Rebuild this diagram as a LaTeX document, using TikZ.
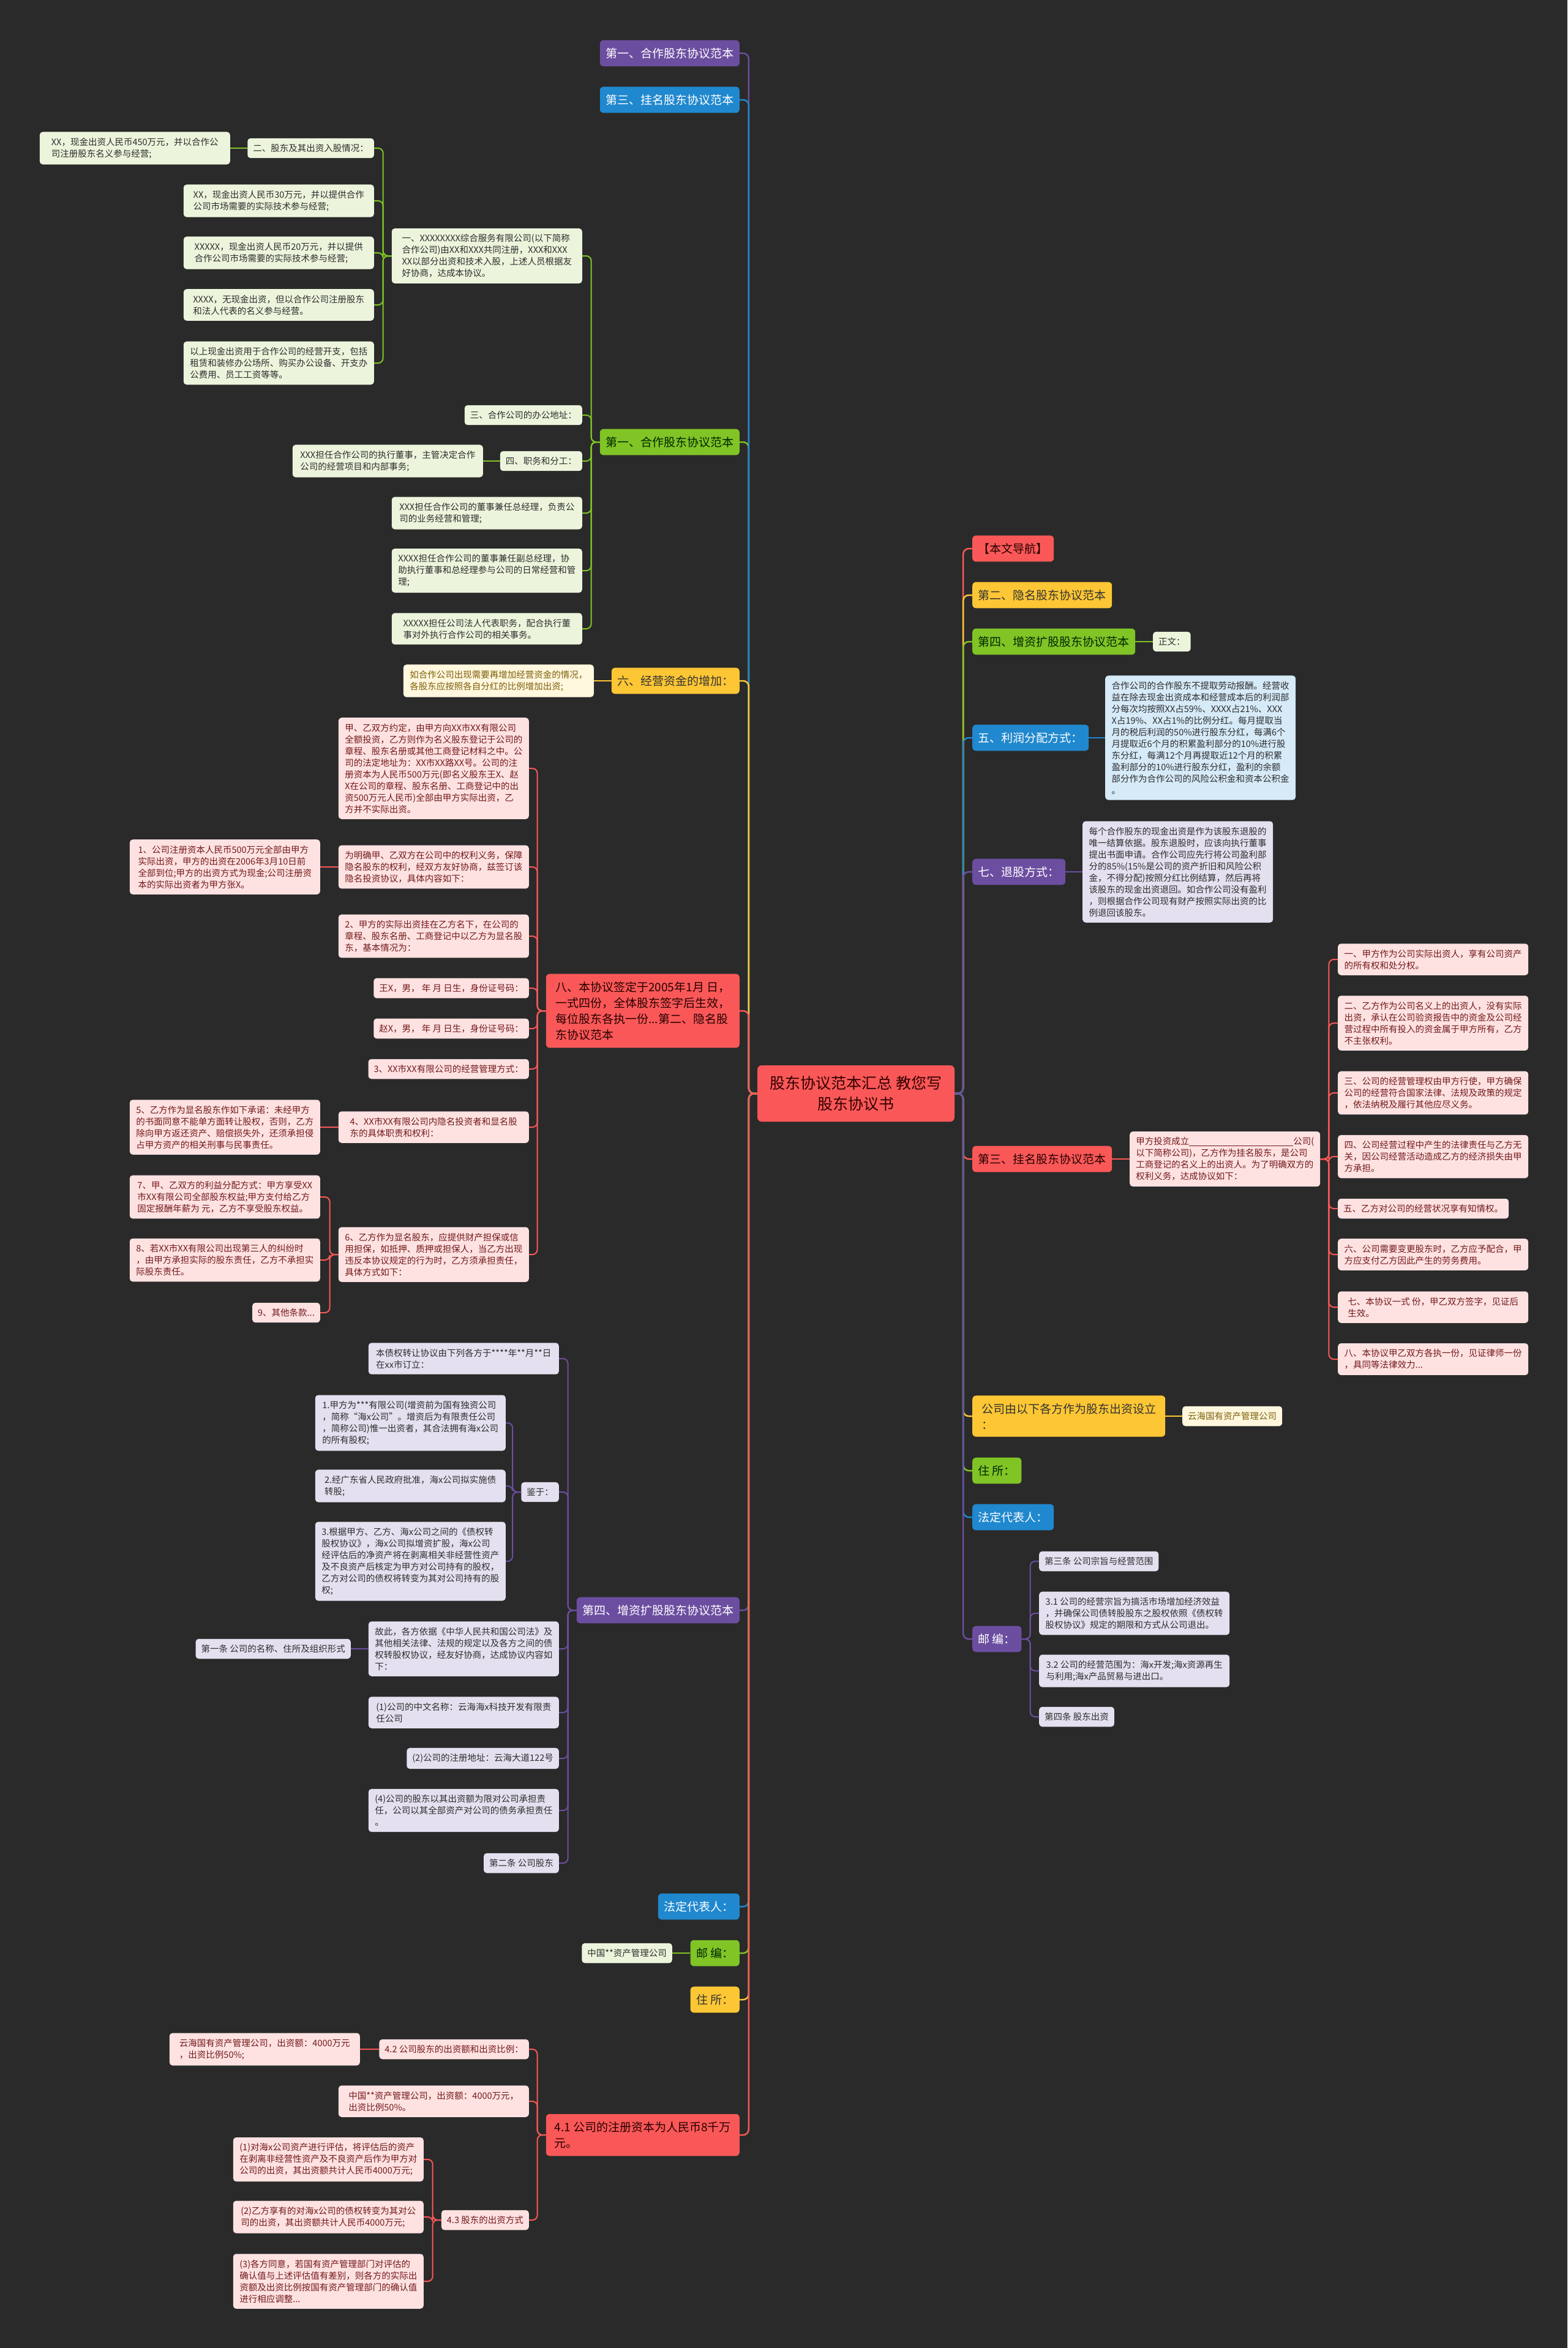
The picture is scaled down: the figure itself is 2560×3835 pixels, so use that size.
\documentclass[tikz,border=0pt]{standalone}
\usepackage{fontspec}
\setmainfont{Noto Sans CJK SC}
\usepackage{tikz}
\usepackage{xcolor}
\definecolor{bgdark}{RGB}{42,42,42}
\definecolor{cpurple}{RGB}{108,78,160}
\definecolor{cblue}{RGB}{32,136,206}
\definecolor{cgreen}{RGB}{128,196,38}
\definecolor{cyellow}{RGB}{252,198,52}
\definecolor{cred}{RGB}{250,88,88}
\definecolor{lgreen}{RGB}{236,245,220}
\definecolor{lred}{RGB}{254,226,226}
\definecolor{lpurple}{RGB}{228,224,240}
\definecolor{lblue}{RGB}{214,234,248}
\definecolor{lyellow}{RGB}{255,247,222}
\definecolor{tred}{RGB}{115,25,25}
\definecolor{tyellow}{RGB}{125,95,10}
\definecolor{tdark}{RGB}{45,45,45}
\newcommand{\leaffont}{\fontsize{14.5}{19}\selectfont}
\newcommand{\brfont}{\fontsize{19}{26}\selectfont}
\newcommand{\topicfont}{\fontsize{25}{34}\selectfont}
\tikzset{
  topic/.style={rectangle,rounded corners=7pt,fill=cred,text=red!20!black,font=\topicfont,align=center,minimum width=322pt,minimum height=92pt,inner sep=0pt},
  brbox/.style={rectangle,rounded corners=6pt,inner xsep=9.5pt,inner ysep=12.5pt,font=\brfont,align=left},
  brpurple/.style={brbox,fill=cpurple,text=white},
  brblue/.style={brbox,fill=cblue,text=white},
  brgreen/.style={brbox,fill=cgreen,text=green!15!black},
  bryellow/.style={brbox,fill=cyellow,text=black!80},
  brred/.style={brbox,fill=cred,text=red!15!black},
  lfbox/.style={rectangle,rounded corners=5pt,inner xsep=9pt,inner ysep=9.5pt,font=\leaffont,align=left},
  lfgreen/.style={lfbox,fill=lgreen,text=tdark},
  lfred/.style={lfbox,fill=lred,text=tred},
  lfpurple/.style={lfbox,fill=lpurple,text=tdark},
  lfblue/.style={lfbox,fill=lblue,text=tdark},
  lfyellow/.style={lfbox,fill=lyellow,text=tyellow},
  wide/.style={minimum width=311pt},
  % connectors: elbow from parent side, straight when child sits level with parent
  link/.style={line width=2.5pt,rounded corners=9pt},
  sublink/.style={line width=2pt,rounded corners=8pt},
}
\newcommand{\linkL}[3]{\draw[#1] (#2.west) -- ++(-14,0) |- (#3.east);}
\newcommand{\linkR}[3]{\draw[#1] (#2.east) -- ++(14,0) |- (#3.west);}
\newcommand{\flatL}[3]{\draw[#1] (#2.west) -- (#3.east);}
\newcommand{\flatR}[3]{\draw[#1] (#2.east) -- (#3.west);}

\begin{document}
\begin{tikzpicture}[x=1pt,y=-1pt]
  \fill[bgdark] (0,0) rectangle (2560,3835);
  \useasboundingbox (0,0) rectangle (2560,3835);

  \node[topic] (T) at (1398,1786) {股东协议范本汇总 教您写\\股东协议书};

  % left branches
  \node[brpurple,anchor=east] (L1) at (1208,87) {第一、合作股东协议范本};
  \node[brblue,anchor=east] (L2) at (1208,163) {第三、挂名股东协议范本};
  \node[brgreen,anchor=east] (L3) at (1208,722) {第一、合作股东协议范本};
  \node[bryellow,anchor=east] (L4) at (1208,1112) {六、经营资金的增加：};
  \node[brred,anchor=east,minimum width=316pt] (L5) at (1208,1651) {八、本协议签定于2005年1月 日，\\一式四份，全体股东签字后生效，\\每位股东各执一份...第二、隐名股\\东协议范本};
  \node[brpurple,anchor=east] (L6) at (1208,2630) {第四、增资扩股股东协议范本};
  \node[brblue,anchor=east] (L7) at (1208,3114) {法定代表人：};
  \node[brgreen,anchor=east] (L8) at (1208,3190) {邮 编：};
  \node[bryellow,anchor=east] (L9) at (1208,3266) {住 所：};
  \node[brred,anchor=east,minimum width=316pt] (L10) at (1208,3487) {4.1 公司的注册资本为人民币8千万\\元。};

  \node[lfgreen,wide,anchor=east] (ga) at (951,418) {一、XXXXXXXX综合服务有限公司(以下简称\\合作公司)由XX和XXX共同注册，XXX和XXX\\XX以部分出资和技术入股，上述人员根据友\\好协商，达成本协议。};
  \node[lfgreen,anchor=east] (g3) at (951,678) {三、合作公司的办公地址：};
  \node[lfgreen,anchor=east] (g4) at (951,753) {四、职务和分工：};
  \node[lfgreen,wide,anchor=east] (g5) at (951,838) {XXX担任合作公司的董事兼任总经理，负责公\\司的业务经营和管理;};
  \node[lfgreen,wide,anchor=east] (g6) at (951,932) {XXXX担任合作公司的董事兼任副总经理，协\\助执行董事和总经理参与公司的日常经营和管\\理;};
  \node[lfgreen,wide,anchor=east] (g7) at (951,1027) {XXXXX担任公司法人代表职务，配合执行董\\事对外执行合作公司的相关事务。};
  \node[lfgreen,wide,anchor=east] (g4a) at (789,753) {XXX担任合作公司的执行董事，主管决定合作\\公司的经营项目和内部事务;};
  \node[lfgreen,anchor=east] (ga1) at (611,242) {二、股东及其出资入股情况：};
  \node[lfgreen,wide,anchor=east] (ga1a) at (376,242) {XX，现金出资人民币450万元，并以合作公\\司注册股东名义参与经营;};
  \node[lfgreen,wide,anchor=east] (ga2) at (611,328) {XX，现金出资人民币30万元，并以提供合作\\公司市场需要的实际技术参与经营;};
  \node[lfgreen,wide,anchor=east] (ga3) at (611,413) {XXXXX，现金出资人民币20万元，并以提供\\合作公司市场需要的实际技术参与经营;};
  \node[lfgreen,wide,anchor=east] (ga4) at (611,498) {XXXX，无现金出资，但以合作公司注册股东\\和法人代表的名义参与经营。};
  \node[lfgreen,wide,anchor=east] (ga5) at (611,593) {以上现金出资用于合作公司的经营开支，包括\\租赁和装修办公场所、购买办公设备、开支办\\公费用、员工工资等等。};

  \node[lfyellow,wide,anchor=east] (y1) at (970,1112) {如合作公司出现需要再增加经营资金的情况，\\各股东应按照各自分红的比例增加出资;};

  \node[lfred,wide,anchor=east] (r1) at (864,1255) {甲、乙双方约定，由甲方向XX市XX有限公司\\全额投资，乙方则作为名义股东登记于公司的\\章程、股东名册或其他工商登记材料之中。公\\司的法定地址为：XX市XX路XX号。公司的注\\册资本为人民币500万元(即名义股东王X、赵\\X在公司的章程、股东名册、工商登记中的出\\资500万元人民币)全部由甲方实际出资，乙\\方并不实际出资。};
  \node[lfred,wide,anchor=east] (r2) at (864,1416) {为明确甲、乙双方在公司中的权利义务，保障\\隐名股东的权利，经双方友好协商，兹签订该\\隐名投资协议，具体内容如下：};
  \node[lfred,wide,anchor=east] (r3) at (864,1529) {2、甲方的实际出资挂在乙方名下，在公司的\\章程、股东名册、工商登记中以乙方为显名股\\东，基本情况为：};
  \node[lfred,anchor=east] (r4) at (864,1614) {王X，男， 年 月 日生，身份证号码：};
  \node[lfred,anchor=east] (r5) at (864,1680) {赵X，男， 年 月 日生，身份证号码：};
  \node[lfred,anchor=east] (r6) at (864,1746) {3、XX市XX有限公司的经营管理方式：};
  \node[lfred,wide,anchor=east] (r7) at (864,1841) {4、XX市XX有限公司内隐名投资者和显名股\\东的具体职责和权利：};
  \node[lfred,wide,anchor=east] (r8) at (864,2049) {6、乙方作为显名股东，应提供财产担保或信\\用担保，如抵押、质押或担保人，当乙方出现\\违反本协议规定的行为时，乙方须承担责任，\\具体方式如下：};
  \node[lfred,wide,anchor=east] (r2a) at (523,1416) {1、公司注册资本人民币500万元全部由甲方\\实际出资，甲方的出资在2006年3月10日前\\全部到位;甲方的出资方式为现金;公司注册资\\本的实际出资者为甲方张X。};
  \node[lfred,wide,anchor=east] (r7a) at (523,1841) {5、乙方作为显名股东作如下承诺：未经甲方\\的书面同意不能单方面转让股权，否则，乙方\\除向甲方返还资产、赔偿损失外，还须承担侵\\占甲方资产的相关刑事与民事责任。};
  \node[lfred,wide,anchor=east] (r8a) at (523,1955) {7、甲、乙双方的利益分配方式：甲方享受XX\\市XX有限公司全部股东权益;甲方支付给乙方\\固定报酬年薪为 元，乙方不享受股东权益。};
  \node[lfred,wide,anchor=east] (r8b) at (523,2058) {8、若XX市XX有限公司出现第三人的纠纷时\\，由甲方承担实际的股东责任，乙方不承担实\\际股东责任。};
  \node[lfred,anchor=east] (r8c) at (523,2144) {9、其他条款...};

  \node[lfpurple,wide,anchor=east] (p1) at (913,2219) {本债权转让协议由下列各方于****年**月**日\\在xx市订立：};
  \node[lfpurple,anchor=east] (p2) at (913,2437) {鉴于：};
  \node[lfpurple,wide,anchor=east] (p3) at (913,2693) {故此，各方依据《中华人民共和国公司法》及\\其他相关法律、法规的规定以及各方之间的债\\权转股权协议，经友好协商，达成协议内容如\\下：};
  \node[lfpurple,wide,anchor=east] (p4) at (913,2797) {(1)公司的中文名称：云海海x科技开发有限责\\任公司};
  \node[lfpurple,anchor=east] (p5) at (913,2872) {(2)公司的注册地址：云海大道122号};
  \node[lfpurple,wide,anchor=east] (p6) at (913,2957) {(4)公司的股东以其出资额为限对公司承担责\\任，公司以其全部资产对公司的债务承担责任\\。};
  \node[lfpurple,anchor=east] (p7) at (913,3043) {第二条 公司股东};
  \node[lfpurple,wide,anchor=east] (p2a) at (826,2324) {1.甲方为***有限公司(增资前为国有独资公司\\，简称“海x公司”。增资后为有限责任公司\\，简称公司)惟一出资者，其合法拥有海x公司\\的所有股权;};
  \node[lfpurple,wide,anchor=east] (p2b) at (826,2427) {2.经广东省人民政府批准，海x公司拟实施债\\转股;};
  \node[lfpurple,wide,anchor=east] (p2c) at (826,2550) {3.根据甲方、乙方、海x公司之间的《债权转\\股权协议》，海x公司拟增资扩股，海x公司\\经评估后的净资产将在剥离相关非经营性资产\\及不良资产后核定为甲方对公司持有的股权，\\乙方对公司的债权将转变为其对公司持有的股\\权;};
  \node[lfpurple,anchor=east] (p3a) at (573,2693) {第一条 公司的名称、住所及组织形式};

  \node[lfgreen,anchor=east] (e1) at (1098,3190) {中国**资产管理公司};

  \node[lfred,anchor=east] (q1) at (864,3347) {4.2 公司股东的出资额和出资比例：};
  \node[lfred,wide,anchor=east] (q2) at (864,3432) {中国**资产管理公司，出资额：4000万元，\\出资比例50\%。};
  \node[lfred,anchor=east] (q3) at (864,3626) {4.3 股东的出资方式};
  \node[lfred,wide,anchor=east] (q1a) at (588,3347) {云海国有资产管理公司，出资额：4000万元\\，出资比例50\%;};
  \node[lfred,wide,anchor=east] (q3a) at (692,3527) {(1)对海x公司资产进行评估，将评估后的资产\\在剥离非经营性资产及不良资产后作为甲方对\\公司的出资，其出资额共计人民币4000万元;};
  \node[lfred,wide,anchor=east] (q3b) at (692,3621) {(2)乙方享有的对海x公司的债权转变为其对公\\司的出资，其出资额共计人民币4000万元;};
  \node[lfred,wide,anchor=east] (q3c) at (692,3726) {(3)各方同意，若国有资产管理部门对评估的\\确认值与上述评估值有差别，则各方的实际出\\资额及出资比例按国有资产管理部门的确认值\\进行相应调整...};

  % right branches
  \node[brred,anchor=west] (R1) at (1588,896) {【本文导航】};
  \node[bryellow,anchor=west] (R2) at (1588,972) {第二、隐名股东协议范本};
  \node[brgreen,anchor=west] (R3) at (1588,1048) {第四、增资扩股股东协议范本};
  \node[brblue,anchor=west] (R4) at (1588,1205) {五、利润分配方式：};
  \node[brpurple,anchor=west] (R5) at (1588,1424) {七、退股方式：};
  \node[brred,anchor=west] (R6) at (1588,1893) {第三、挂名股东协议范本};
  \node[bryellow,anchor=west,minimum width=315pt] (R7) at (1588,2313) {公司由以下各方作为股东出资设立\\：};
  \node[brgreen,anchor=west] (R8) at (1588,2402) {住 所：};
  \node[brblue,anchor=west] (R9) at (1588,2478) {法定代表人：};
  \node[brpurple,anchor=west] (R10) at (1588,2677) {邮 编：};

  \node[lfgreen,anchor=west] (s3) at (1883,1048) {正文：};
  \node[lfblue,wide,anchor=west] (s4) at (1805,1205) {合作公司的合作股东不提取劳动报酬。经营收\\益在除去现金出资成本和经营成本后的利润部\\分每次均按照XX占59\%、XXXX占21\%、XXX\\X占19\%、XX占1\%的比例分红。每月提取当\\月的税后利润的50\%进行股东分红，每满6个\\月提取近6个月的积累盈利部分的10\%进行股\\东分红，每满12个月再提取近12个月的积累\\盈利部分的10\%进行股东分红，盈利的余额\\部分作为合作公司的风险公积金和资本公积金\\。};
  \node[lfpurple,wide,anchor=west] (s5) at (1768,1424) {每个合作股东的现金出资是作为该股东退股的\\唯一结算依据。股东退股时，应该向执行董事\\提出书面申请。合作公司应先行将公司盈利部\\分的85\%(15\%是公司的资产折旧和风险公积\\金，不得分配)按照分红比例结算，然后再将\\该股东的现金出资退回。如合作公司没有盈利\\，则根据合作公司现有财产按照实际出资的比\\例退回该股东。};
  \node[lfred,wide,anchor=west] (s6) at (1845,1893) {甲方投资成立\rule[-2pt]{170pt}{0.6pt}公司(\\以下简称公司)，乙方作为挂名股东，是公司\\工商登记的名义上的出资人。为了明确双方的\\权利义务，达成协议如下：};
  \node[lfred,wide,anchor=west] (s6a) at (2185,1567) {一、甲方作为公司实际出资人，享有公司资产\\的所有权和处分权。};
  \node[lfred,wide,anchor=west] (s6b) at (2185,1671) {二、乙方作为公司名义上的出资人，没有实际\\出资，承认在公司验资报告中的资金及公司经\\营过程中所有投入的资金属于甲方所有，乙方\\不主张权利。};
  \node[lfred,wide,anchor=west] (s6c) at (2185,1785) {三、公司的经营管理权由甲方行使，甲方确保\\公司的经营符合国家法律、法规及政策的规定\\，依法纳税及履行其他应尽义务。};
  \node[lfred,wide,anchor=west] (s6d) at (2185,1889) {四、公司经营过程中产生的法律责任与乙方无\\关，因公司经营活动造成乙方的经济损失由甲\\方承担。};
  \node[lfred,anchor=west] (s6e) at (2185,1974) {五、乙方对公司的经营状况享有知情权。};
  \node[lfred,wide,anchor=west] (s6f) at (2185,2049) {六、公司需要变更股东时，乙方应予配合，甲\\方应支付乙方因此产生的劳务费用。};
  \node[lfred,wide,anchor=west] (s6g) at (2185,2135) {七、本协议一式 份，甲乙双方签字，见证后\\生效。};
  \node[lfred,wide,anchor=west] (s6h) at (2185,2220) {八、本协议甲乙双方各执一份，见证律师一份\\，具同等法律效力...};
  \node[lfyellow,anchor=west] (s7) at (1931,2313) {云海国有资产管理公司};
  \node[lfpurple,anchor=west] (s10a) at (1697,2550) {第三条 公司宗旨与经营范围};
  \node[lfpurple,wide,anchor=west] (s10b) at (1697,2635) {3.1 公司的经营宗旨为搞活市场增加经济效益\\，并确保公司债转股股东之股权依照《债权转\\股权协议》规定的期限和方式从公司退出。};
  \node[lfpurple,wide,anchor=west] (s10c) at (1697,2729) {3.2 公司的经营范围为：海x开发;海x资源再生\\与利用;海x产品贸易与进出口。};
  \node[lfpurple,anchor=west] (s10d) at (1697,2804) {第四条 股东出资};

  % trunk links
  \linkL{link,cpurple}{T}{L1} \linkL{link,cgreen}{T}{L3} \linkL{link,cblue}{T}{L2}
  \linkL{link,cyellow}{T}{L4} \linkL{link,cred}{T}{L5}
  \linkL{link,cpurple}{T}{L6} \linkL{link,cblue}{T}{L7} \linkL{link,cgreen}{T}{L8}
  \linkL{link,cyellow}{T}{L9} \linkL{link,cred}{T}{L10}
  \linkR{link,cred}{T}{R1} \linkR{link,cyellow}{T}{R2} \linkR{link,cgreen}{T}{R3}
  \linkR{link,cblue}{T}{R4} \linkR{link,cpurple}{T}{R5} \linkR{link,cred}{T}{R6}
  \linkR{link,cyellow}{T}{R7} \linkR{link,cgreen}{T}{R8} \linkR{link,cblue}{T}{R9}
  \linkR{link,cpurple}{T}{R10}

  % sub links
  \linkL{sublink,cgreen}{L3}{ga} \linkL{sublink,cgreen}{L3}{g3} \linkL{sublink,cgreen}{L3}{g4}
  \linkL{sublink,cgreen}{L3}{g5} \linkL{sublink,cgreen}{L3}{g6} \linkL{sublink,cgreen}{L3}{g7}
  \flatL{sublink,cgreen}{g4}{g4a}
  \linkL{sublink,cgreen}{ga}{ga1} \linkL{sublink,cgreen}{ga}{ga2} \linkL{sublink,cgreen}{ga}{ga3}
  \linkL{sublink,cgreen}{ga}{ga4} \linkL{sublink,cgreen}{ga}{ga5}
  \flatL{sublink,cgreen}{ga1}{ga1a}
  \flatL{sublink,cyellow}{L4}{y1}
  \linkL{sublink,cred}{L5}{r1} \linkL{sublink,cred}{L5}{r2} \linkL{sublink,cred}{L5}{r3}
  \linkL{sublink,cred}{L5}{r4} \linkL{sublink,cred}{L5}{r5} \linkL{sublink,cred}{L5}{r6}
  \linkL{sublink,cred}{L5}{r7} \linkL{sublink,cred}{L5}{r8}
  \flatL{sublink,cred}{r2}{r2a} \flatL{sublink,cred}{r7}{r7a}
  \linkL{sublink,cred}{r8}{r8a} \linkL{sublink,cred}{r8}{r8b} \linkL{sublink,cred}{r8}{r8c}
  \linkL{sublink,cpurple}{L6}{p1} \linkL{sublink,cpurple}{L6}{p2} \linkL{sublink,cpurple}{L6}{p3}
  \linkL{sublink,cpurple}{L6}{p4} \linkL{sublink,cpurple}{L6}{p5} \linkL{sublink,cpurple}{L6}{p6}
  \linkL{sublink,cpurple}{L6}{p7}
  \linkL{sublink,cpurple}{p2}{p2a} \linkL{sublink,cpurple}{p2}{p2b} \linkL{sublink,cpurple}{p2}{p2c}
  \flatL{sublink,cpurple}{p3}{p3a}
  \flatL{sublink,cgreen}{L8}{e1}
  \linkL{sublink,cred}{L10}{q1} \linkL{sublink,cred}{L10}{q2} \linkL{sublink,cred}{L10}{q3}
  \flatL{sublink,cred}{q1}{q1a}
  \linkL{sublink,cred}{q3}{q3a} \linkL{sublink,cred}{q3}{q3b} \linkL{sublink,cred}{q3}{q3c}
  \flatR{sublink,cgreen}{R3}{s3} \flatR{sublink,cblue}{R4}{s4} \flatR{sublink,cpurple}{R5}{s5}
  \flatR{sublink,cred}{R6}{s6} \flatR{sublink,cyellow}{R7}{s7}
  \linkR{sublink,cred}{s6}{s6a} \linkR{sublink,cred}{s6}{s6b} \linkR{sublink,cred}{s6}{s6c}
  \linkR{sublink,cred}{s6}{s6d} \linkR{sublink,cred}{s6}{s6e} \linkR{sublink,cred}{s6}{s6f}
  \linkR{sublink,cred}{s6}{s6g} \linkR{sublink,cred}{s6}{s6h}
  \linkR{sublink,cpurple}{R10}{s10a} \linkR{sublink,cpurple}{R10}{s10b}
  \linkR{sublink,cpurple}{R10}{s10c} \linkR{sublink,cpurple}{R10}{s10d}
\end{tikzpicture}
\end{document}
